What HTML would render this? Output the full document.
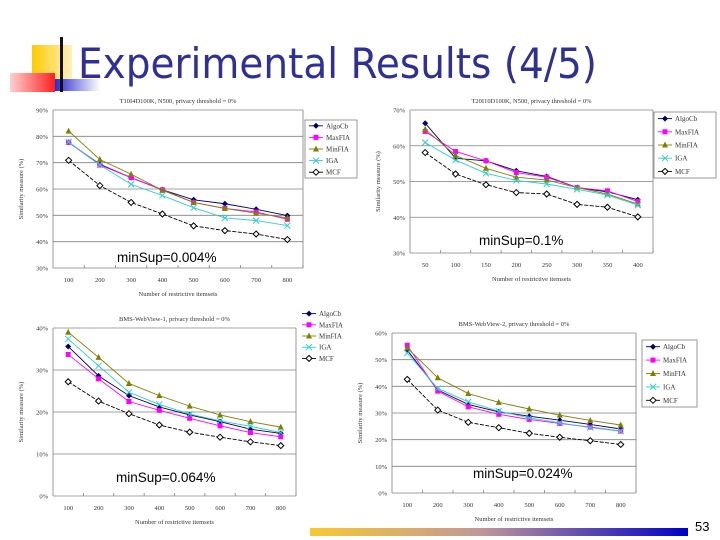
<!DOCTYPE html>
<html><head><meta charset="utf-8">
<style>
html,body{margin:0;padding:0;background:#fff;}
#slide{position:relative;width:720px;height:540px;overflow:hidden;background:#fff;font-family:"Liberation Sans",sans-serif;}
</style></head>
<body>
<div id="slide">
<svg id="svg" width="720" height="540" xmlns="http://www.w3.org/2000/svg">
<defs>
<linearGradient id="redg" x1="0" x2="1"><stop offset="0" stop-color="#ffd0d0"/><stop offset="1" stop-color="#ff2020"/></linearGradient>
<linearGradient id="blueg" x1="0" x2="1"><stop offset="0" stop-color="#2b2bd0"/><stop offset="1" stop-color="#ffffff"/></linearGradient>
<linearGradient id="yelg" x1="0" x2="1"><stop offset="0" stop-color="#ffcc00"/><stop offset="1" stop-color="#fff0c0"/></linearGradient>
<linearGradient id="botg" x1="0" x2="1"><stop offset="0" stop-color="#f8c830"/><stop offset="0.45" stop-color="#c09898"/><stop offset="1" stop-color="#0000c8"/></linearGradient>
</defs>
<g>
<rect x="32" y="45" width="40" height="35" fill="url(#yelg)"/>
<rect x="10" y="73" width="45" height="19" fill="url(#redg)"/>
<rect x="55" y="79" width="45" height="12" fill="url(#blueg)"/>
<rect x="60" y="37" width="3" height="55" fill="#111"/>
</g>
<text x="78" y="78" font-size="42" fill="#2e3192" textLength="519" lengthAdjust="spacingAndGlyphs" font-family="DejaVu Sans, Liberation Sans, sans-serif">Experimental Results (4/5)</text>
<rect x="310" y="528" width="378" height="8" fill="url(#botg)"/>
<text x="695" y="531" font-size="13" fill="#000">53</text>
<g id="charts"></g>
</svg>
</div>
<script>
const seriesNames=["AlgoCb","MaxFIA","MinFIA","IGA","MCF"];
const c1Cats=["100","200","300","400","500","600","700","800"];
const c1Ticks=[90,80,70,60,50,40,30];
const c1Algo=[77.7,69.4,64.3,59.7,55.9,54.4,52.3,49.9];
const c1Max=[77.7,69.1,64.3,59.7,54.9,52.6,51.3,48.5];
const c1Min=[82,71.2,65.6,59.5,54.9,52.6,50.8,49];
const c1IGA=[77.9,69.1,61.8,57.5,52.9,49,48,46.1];
const c1MCF=[70.9,61.3,54.9,50.5,46,44.2,42.9,40.8];
const c2Cats=["50","100","150","200","250","300","350","400"];
const c2Ticks=[70,60,50,40,30];
const c2Algo=[66.3,56.5,55.8,53,51.4,48.3,47.1,44.9];
const c2Max=[64,58.4,55.8,52.5,51.2,48.3,47.4,44.4];
const c2Min=[64.6,57.3,53.7,51.2,50.4,48.3,46.5,43.7];
const c2IGA=[60.9,56,52.3,50.3,49.3,47.8,46.2,43.4];
const c2MCF=[58.1,52.1,49.1,46.9,46.5,43.6,42.8,40.1];
const c3Cats=["100","200","300","400","500","600","700","800"];
const c3Ticks=[40,30,20,10,0];
const c3Algo=[35.6,28.6,23.9,21.2,19.3,17.7,15.9,14.9];
const c3Max=[33.7,27.9,22.5,20.4,18.5,16.7,15.1,14.1];
const c3Min=[39,33,26.8,23.9,21.4,19.3,17.7,16.4];
const c3IGA=[37.4,31,24.7,21.8,19.5,17.9,16.6,15.1];
const c3MCF=[27.2,22.6,19.6,16.9,15.2,14,12.9,12];
const c4Cats=["100","200","300","400","500","600","700","800"];
const c4Ticks=[60,50,40,30,20,10,0];
const c4Algo=[53.6,38.6,33.2,30.4,28.8,27.3,25.7,24];
const c4Max=[55.4,38.2,32.3,29.5,27.6,26.1,24.7,23.2];
const c4Min=[54.4,43.2,37.3,34,31.5,29.2,27.2,25.5];
const c4IGA=[52.5,39.2,34.2,30.7,28.2,26.3,24.5,23.2];
const c4MCF=[42.6,31.1,26.5,24.5,22.4,20.9,19.6,18.2];

const colors=["#000066","#ff00ff","#808000","#33cccc","#000000"];
const NS="http://www.w3.org/2000/svg";
const root=document.getElementById('charts');
function mk(tag,attrs,parent){const e=document.createElementNS(NS,tag);for(const k in attrs)e.setAttribute(k,attrs[k]);parent.appendChild(e);return e;}
function marker(g,i,x,y){
  const c=colors[i];let m;
  if(i===0){m=mk('polygon',{points:`${x},${y-3} ${x+3},${y} ${x},${y+3} ${x-3},${y}`,fill:c},g);}
  else if(i===1){m=mk('rect',{x:x-2.5,y:y-2.5,width:5,height:5,fill:c},g);}
  else if(i===2){m=mk('polygon',{points:`${x},${y-3.5} ${x+3},${y+2.5} ${x-3},${y+2.5}`,fill:c},g);}
  else if(i===3){m=mk('path',{d:`M${x-3} ${y-3}L${x+3} ${y+3}M${x+3} ${y-3}L${x-3} ${y+3}`,stroke:c,'stroke-width':1},g);}
  else {m=mk('polygon',{points:`${x},${y-3} ${x+3},${y} ${x},${y+3} ${x-3},${y}`,fill:'#fff',stroke:c,'stroke-width':1},g);}
  
  
}
function chart(o){
  const g=mk('g',{},root);
  
  
  const tmax=o.ticks[0],tmin=o.ticks[o.ticks.length-1];
  const yS=v=>o.y1-(v-tmin)/(tmax-tmin)*(o.y1-o.y0);
  const bw=(o.x1-o.x0)/o.cats.length;
  const xS=i=>o.x0+bw*(i+0.5);
  o.ticks.forEach(t=>{
    const y=yS(t);
    const l=mk('line',{x1:o.x0,x2:o.x1,y1:y,y2:y,stroke:'#808080','stroke-width':0.8},g);
    
    
    const tx=mk('text',{x:o.x0-5,y:y+2.5,'font-size':6.5,'text-anchor':'end',fill:'#333','font-family':'Liberation Serif, serif'},g);
    tx.textContent=t+'%';
    
    
  });
  const ax=mk('line',{x1:o.x0,x2:o.x0,y1:o.y0,y2:o.y1,stroke:'#808080','stroke-width':0.8},g);
  
  
  const ax2=mk('line',{x1:o.x1,x2:o.x1,y1:o.y0,y2:o.y1,stroke:'#808080','stroke-width':0.8},g);
  
  
  o.cats.forEach((c,i)=>{
    const tk=mk('line',{x1:o.x0+bw*(i+1),x2:o.x0+bw*(i+1),y1:o.y1,y2:o.y1-3,stroke:'#808080','stroke-width':0.8},g);
    
    
    const tx=mk('text',{x:xS(i),y:o.y1+14,'font-size':6.5,'text-anchor':'middle',fill:'#333','font-family':'Liberation Serif, serif'},g);
    tx.textContent=c;
    
    
  });
  const tt=mk('text',{x:(o.x0+o.x1)/2,y:o.y0-7,'font-size':6.5,'text-anchor':'middle',fill:'#333','font-family':'Liberation Serif, serif'},g);
  tt.textContent=o.title;
  
  
  const xt=mk('text',{x:(o.x0+o.x1)/2,y:o.y1+28,'font-size':6.5,'text-anchor':'middle',fill:'#333','font-family':'Liberation Serif, serif'},g);
  xt.textContent='Number of restrictive itemsets';
  
  
  const yx=o.x0-30,yy=(o.y0+o.y1)/2;
  const yt=mk('text',{x:yx,y:yy,'font-size':6.5,'text-anchor':'middle',fill:'#333',transform:`rotate(-90 ${yx} ${yy})`,'font-family':'Liberation Serif, serif'},g);
  yt.textContent=o.ytitle;
  
  
  o.series.forEach((s,si)=>{
    const pts=s.map((v,i)=>xS(i)+','+yS(v)).join(' ');
    const pl=mk('polyline',{points:pts,fill:'none',stroke:colors[si],'stroke-width':0.9},g);
    if(si===4) pl.setAttribute('stroke-dasharray','4 1.5');
    
    
    s.forEach((v,i)=>marker(g,si,xS(i),yS(v)));
  });
  const L=o.legend;
  if(L.box){
    const r=mk('rect',{x:L.x,y:L.y,width:L.w,height:L.h,fill:'#fff',stroke:'#808080','stroke-width':0.8},g);
    
    
  }
  const step=L.h/5;
  seriesNames.forEach((n,i)=>{
    const ly=L.y+step*(i+0.5);
    const ln=mk('line',{x1:L.x+4,x2:L.x+18,y1:ly,y2:ly,stroke:colors[i],'stroke-width':0.9},g);
    
    
    marker(g,i,L.x+11,ly);
    const t=mk('text',{x:L.x+21,y:ly+2.5,'font-size':7,fill:'#333','font-family':'Liberation Serif, serif'},g);
    t.textContent=n;
    
    
  });
  const ms=mk('text',{x:o.ms[0],y:o.ms[1],'font-size':13.5,fill:'#000'},g);
  ms.textContent=o.msText;
  
  
}
chart({name:'chart-t10i4d100k',x0:53,x1:303,y0:110,y1:268,cats:c1Cats,ticks:c1Ticks,series:[c1Algo,c1Max,c1Min,c1IGA,c1MCF],
  title:'T10I4D100K, N500, privacy threshold = 0%',ytitle:'Similarity measure (%)',legend:{box:true,x:305,y:120,w:52,h:58},ms:[117,262],msText:'minSup=0.004%'});
chart({name:'chart-t20i10d100k',x0:410,x1:653,y0:110,y1:253,cats:c2Cats,ticks:c2Ticks,series:[c2Algo,c2Max,c2Min,c2IGA,c2MCF],
  title:'T20I10D100K, N500, privacy threshold = 0%',ytitle:'Similarity measure (%)',legend:{box:true,x:654,y:112,w:62,h:66},ms:[479,245],msText:'minSup=0.1%'});
chart({name:'chart-bms-webview-1',x0:53,x1:296,y0:328,y1:496,cats:c3Cats,ticks:c3Ticks,series:[c3Algo,c3Max,c3Min,c3IGA,c3MCF],
  title:'BMS-WebView-1, privacy threshold = 0%',ytitle:'Similarity measure (%)',legend:{box:false,x:298,y:308,w:55,h:56},ms:[116,482],msText:'minSup=0.064%'});
chart({name:'chart-bms-webview-2',x0:392,x1:636,y0:333,y1:493,cats:c4Cats,ticks:c4Ticks,series:[c4Algo,c4Max,c4Min,c4IGA,c4MCF],
  title:'BMS-WebView-2, privacy threshold = 0%',ytitle:'Similarity measure (%)',legend:{box:true,x:642,y:340,w:55,h:67},ms:[473,478],msText:'minSup=0.024%'});
</script>
</body></html>
